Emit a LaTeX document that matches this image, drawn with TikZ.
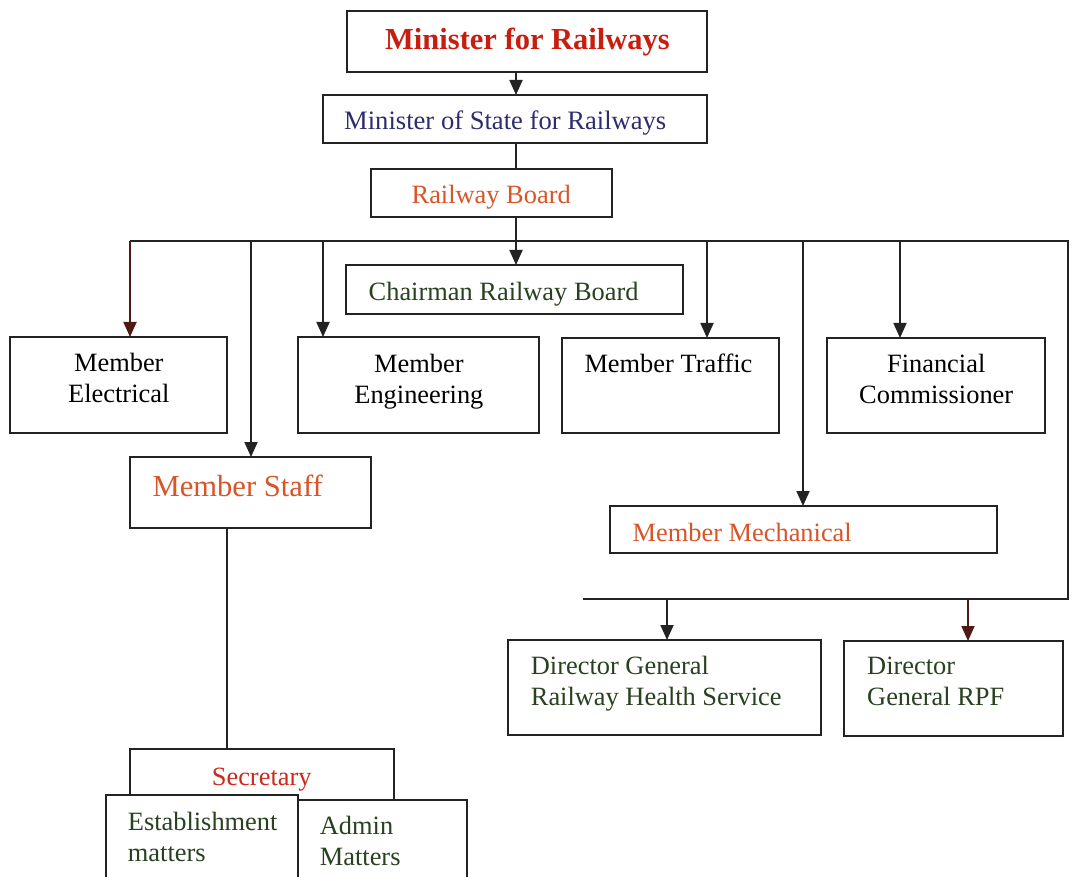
\documentclass[tikz,border=0pt]{standalone}
\usepackage{fontspec}
\setmainfont{Liberation Serif}
\usetikzlibrary{arrows.meta}
\definecolor{cRed}{RGB}{200,30,15}
\definecolor{cNavy}{RGB}{45,45,110}
\definecolor{cOrange}{RGB}{215,85,40}
\definecolor{cGreen}{RGB}{40,65,30}
\definecolor{cSec}{RGB}{205,40,30}
\definecolor{cLine}{RGB}{35,35,35}
\definecolor{cBrown}{RGB}{80,25,20}
\begin{document}
\begin{tikzpicture}[x=1pt,y=-1pt,line width=1.8pt,
  box/.style={draw=cLine,fill=white,inner sep=0pt,outer sep=0pt,anchor=north west},
  txt/.style={inner sep=0pt,font=\fontsize{26.4}{31}\selectfont},
  arr/.style={draw=cLine,-{Triangle[width=13pt,length=15pt]}},
  wire/.style={draw=cLine,line width=1.8pt}]
\clip (0,0) rectangle (1074,877);
\fill[white] (0,0) rectangle (1074,877);
% boxes
\node[box,minimum width=360pt,minimum height=61pt] (min) at (347,11) {};
\node[box,minimum width=384pt,minimum height=48pt] (mos) at (323,95) {};
\node[box,minimum width=241pt,minimum height=48pt] (rb) at (371,169) {};
\node[box,minimum width=337pt,minimum height=49pt] (chair) at (346,265) {};
\node[box,minimum width=217pt,minimum height=96pt] (mel) at (10,337) {};
\node[box,minimum width=241pt,minimum height=96pt] (meng) at (298,337) {};
\node[box,minimum width=217pt,minimum height=95pt] (mt) at (562,338) {};
\node[box,minimum width=218pt,minimum height=95pt] (fc) at (827,338) {};
\node[box,minimum width=241pt,minimum height=71pt] (ms) at (130,457) {};
\node[box,minimum width=387pt,minimum height=47pt] (mm) at (610,506) {};
\node[box,minimum width=313pt,minimum height=95pt] (dgh) at (508,640) {};
\node[box,minimum width=219pt,minimum height=95pt] (dgr) at (844,641) {};
\node[box,minimum width=264pt,minimum height=51pt] (sec) at (130,749) {};
\node[box,minimum width=169pt,minimum height=95pt] (adm) at (298,800) {};
\node[box,minimum width=192pt,minimum height=100pt] (est) at (106,795) {};
% coordinates
\coordinate (cx) at (516,0);
\coordinate (busL) at (130,241);
\coordinate (busR) at (1068,241);
\coordinate (dMS) at (251,241);
\coordinate (dMEng) at (323,241);
\coordinate (dChair) at (516,241);
\coordinate (dMT) at (707,241);
\coordinate (dMM) at (803,241);
\coordinate (dFC) at (900,241);
\coordinate (lbusL) at (583,599);
\coordinate (lbusR) at (1068,599);
\coordinate (dDGH) at (667,599);
\coordinate (dDGR) at (968,599);
\coordinate (cs) at (227,0);
% connectors
\draw[arr] (min.south -| cx) -- (mos.north -| cx);
\draw[wire] (mos.south -| dChair) -- (rb.north -| dChair);
\draw[arr] (rb.south -| dChair) -- (chair.north -| dChair);
\draw[wire] (busL) -- (busR) -- (lbusR) -- (lbusL);
\draw[arr,draw=cBrown] (busL) -- (busL |- mel.north);
\draw[arr] (dMS) -- (dMS |- ms.north);
\draw[arr] (dMEng) -- (dMEng |- meng.north);
\draw[arr] (dMT) -- (dMT |- mt.north);
\draw[arr] (dMM) -- (dMM |- mm.north);
\draw[arr] (dFC) -- (dFC |- fc.north);
\draw[arr] (dDGH) -- (dDGH |- dgh.north);
\draw[arr,draw=cBrown] (dDGR) -- (dDGR |- dgr.north);
\draw[wire] (ms.south -| cs) -- (sec.north -| cs);
% texts
\node[inner sep=0pt,anchor=base,text=cRed,font=\fontsize{30.5}{36}\selectfont\bfseries] (tmin) at (527.5,50) {Minister for Railways};
\node[txt,anchor=base west,text=cNavy,font=\fontsize{26.6}{31}\selectfont] (tmos) at (343.3,130) {Minister of State for Railways};
\node[txt,anchor=base,text=cOrange] (trb) at (491.2,203.3) {Railway Board};
\node[txt,anchor=base west,text=cGreen] (tchair) at (367.8,300.7) {Chairman Railway Board};
\node[txt,anchor=base,text=black] (tmel) at (118.8,372) {\begin{tabular}[t]{@{}c@{}}Member\\Electrical\end{tabular}};
\node[txt,anchor=base,text=black] (tmeng) at (418.9,372.7) {\begin{tabular}[t]{@{}c@{}}Member\\Engineering\end{tabular}};
\node[txt,anchor=base west,text=black] (tmt) at (583.6,373) {Member Traffic};
\node[txt,anchor=base,text=black] (tfc) at (936.2,373) {\begin{tabular}[t]{@{}c@{}}Financial\\Commissioner\end{tabular}};
\node[inner sep=0pt,anchor=base west,text=cOrange,font=\fontsize{30.6}{36}\selectfont] (tms) at (151.7,496) {Member Staff};
\node[txt,anchor=base west,text=cOrange] (tmm) at (631.7,541) {Member Mechanical};
\node[txt,anchor=base west,text=cGreen] (tdgh) at (530,674) {\begin{tabular}[t]{@{}l@{}}Director General\\Railway Health Service\end{tabular}};
\node[txt,anchor=base west,text=cGreen] (tdgr) at (866.3,674.3) {\begin{tabular}[t]{@{}l@{}}Director\\General RPF\end{tabular}};
\node[txt,anchor=base,text=cSec] (tsec) at (261.7,785) {Secretary};
\node[txt,anchor=base west,text=cGreen] (test) at (127,830) {\begin{tabular}[t]{@{}l@{}}Establishment\\matters\end{tabular}};
\node[txt,anchor=base west,text=cGreen] (tadm) at (319,834) {\begin{tabular}[t]{@{}l@{}}Admin\\Matters\end{tabular}};
\end{tikzpicture}
\end{document}
